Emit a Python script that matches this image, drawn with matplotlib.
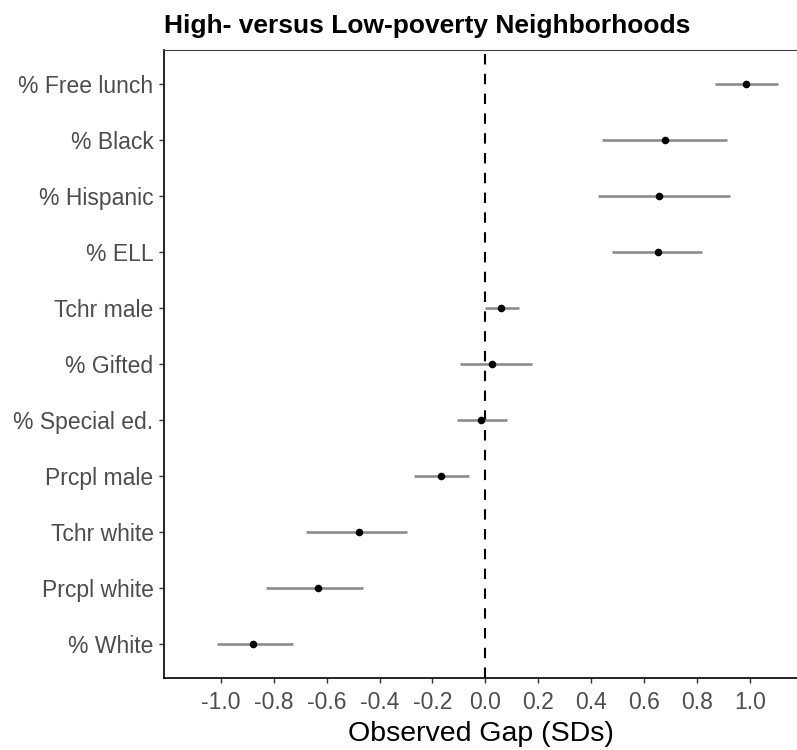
#!/usr/bin/env python3

import matplotlib
matplotlib.use('Agg')
import matplotlib.pyplot as plt
import numpy as np

################################################################################

# categories, from the top row of the chart to the bottom row
categories = ['% Free lunch', '% Black', '% Hispanic', '% ELL', 'Tchr male',
              '% Gifted', '% Special ed.', 'Prcpl male', 'Tchr white',
              'Prcpl white', '% White']

# observed gap (point estimate) and its interval, in SDs
gap = [0.985, 0.680, 0.655, 0.651, 0.060, 0.025, -0.015, -0.166, -0.477, -0.634, -0.880]
lower = [0.869, 0.440, 0.426, 0.478, -0.003, -0.097, -0.106, -0.269, -0.678, -0.828, -1.014]
upper = [1.105, 0.915, 0.926, 0.817, 0.126, 0.177, 0.082, -0.063, -0.297, -0.462, -0.728]

x_ticks = [-1.0, -0.8, -0.6, -0.4, -0.2, 0.0, 0.2, 0.4, 0.6, 0.8, 1.0]

################################################################################

def main():

	plt.rcParams['font.family'] = ['Liberation Sans', 'DejaVu Sans']

	fig = plt.figure(figsize = (7.97, 7.50), dpi = 100)
	ax = fig.add_axes([164 / 797, 1 - 678 / 750, 633 / 797, 628 / 750])

	# first category goes on top, so count the rows from the bottom
	n = len(categories)
	rows = np.arange(n)[:: -1]

	# reference line at zero
	ax.axvline(0, color = 'black', linewidth = 1.5, linestyle = (0, (5, 4.5)), zorder = 1)

	# intervals, then the point estimates on top
	ax.hlines(rows, lower, upper, color = '#8c8c8c', linewidth = 1.9, zorder = 2)
	ax.scatter(gap, rows, s = 30, color = 'black', zorder = 3, linewidths = 0)

	ax.set_yticks(rows)
	ax.set_yticklabels(categories)
	ax.set_ylim(-0.6, n - 1 + 0.6)

	ax.set_xticks(x_ticks)
	ax.set_xticklabels([f'{t:.1f}' for t in x_ticks])
	ax.set_xlim(-1.215, 1.178)

	# heavy left and bottom axis lines, thin grey frame on top
	# the right side of the frame falls off the edge of the picture
	ax.spines['right'].set_visible(False)
	ax.spines['top'].set_linewidth(0.8)
	ax.spines['top'].set_color('#444444')
	for side in ['left', 'bottom']:
		ax.spines[side].set_linewidth(1.2)
		ax.spines[side].set_color('black')

	ax.tick_params(axis = 'both', length = 3.5, width = 1.0, color = '#333333',
	               labelcolor = '#4d4d4d', labelsize = 16.5)
	ax.tick_params(axis = 'y', pad = 4)
	ax.tick_params(axis = 'x', pad = 6)

	ax.set_xlabel('Observed Gap (SDs)', fontsize = 20.5, color = 'black', labelpad = 5)
	ax.set_title('High- versus Low-poverty Neighborhoods', fontsize = 19,
	             fontweight = 'bold', loc = 'left', pad = 12)

	fig.savefig('out.png', dpi = 100)

################################################################################

if __name__ == '__main__':
	main()
